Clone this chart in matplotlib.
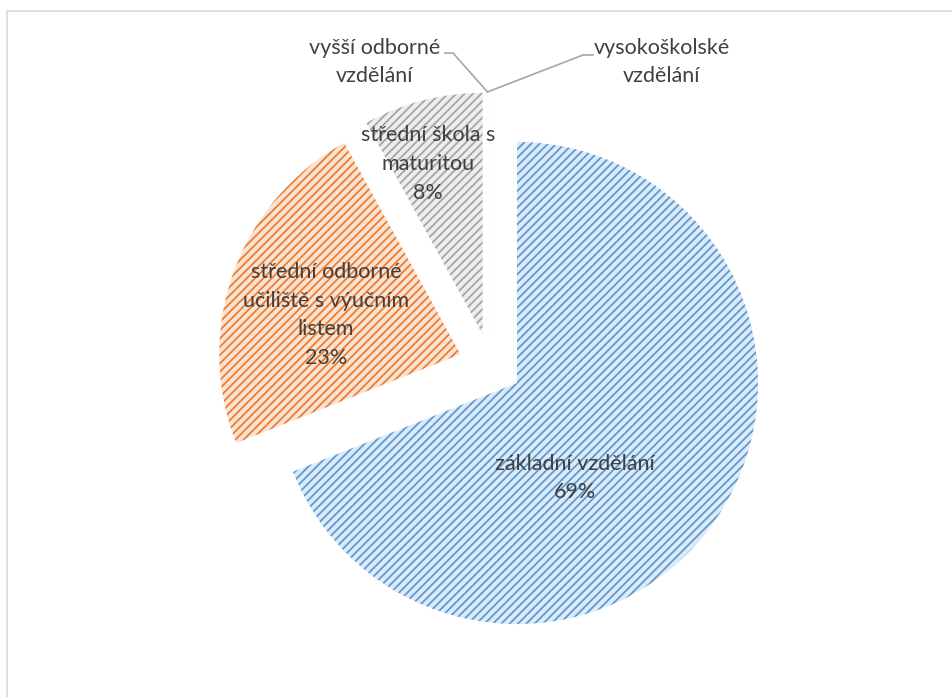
import matplotlib.pyplot as plt
from matplotlib.patches import Rectangle

plt.rcParams["font.family"] = ["Lato", "DejaVu Sans"]
plt.rcParams["hatch.linewidth"] = 1.3

categories = [
    "základní vzdělání",
    "střední odborné\nučiliště s výučním\nlistem",
    "střední škola s\nmaturitou",
    "vyšší odborné\nvzdělání",
    "vysokoškolské\nvzdělání",
]
shares = [69, 23, 8, 0, 0]
stripe_colors = ["#5b9bd5", "#ed7d31", "#a5a5a5", "#ffc000", "#4472c4"]
back_colors = ["#deebf7", "#fbe3d3", "#ededed", "#fff2cc", "#dae3f3"]

TEXT = "#404040"
FS = 15.5
LS = 1.55

fig = plt.figure(figsize=(9.53, 6.97), dpi=100)
ax = fig.add_axes([0, 0, 1, 1])

cx, cy, r = 490.5, 332, 241
explode = 0.133
wedges, _ = ax.pie(
    shares,
    explode=[explode * r] * len(shares),  # pie offsets in data units
    startangle=90,
    counterclock=False,
    radius=r,
    center=(cx, cy),
    colors=back_colors,
)
for w, sc in zip(wedges, stripe_colors):
    w.set_hatch("////")
    w.set_edgecolor(sc)
    w.set_linewidth(0.01)
    if hasattr(w, "set_hatchcolor"):
        w.set_hatchcolor(sc)

ax.set_xlim(0, 953)
ax.set_ylim(0, 697)
ax.set_aspect("equal")
ax.axis("off")

# inside labels
label_pos = [(575, 697 - 478), (326, 697 - 315), (428, 697 - 164)]
for i, (x, y) in enumerate(label_pos):
    ax.text(x, y, f"{categories[i]}\n{shares[i]}%", ha="center", va="center",
            fontsize=FS, color=TEXT, linespacing=LS)

# zero-value labels with leader lines
tip = (cx, cy + r * (1 + explode))
ax.text(375, 697 - 62, categories[3], ha="center", va="center",
        fontsize=FS, color=TEXT, linespacing=LS)
ax.text(662, 697 - 62, categories[4], ha="center", va="center",
        fontsize=FS, color=TEXT, linespacing=LS)
ax.plot([445, 453, tip[0] - 3], [697 - 53, 697 - 53, tip[1]], color="#a6a6a6", lw=1.2)
ax.plot([593, 583, tip[0] - 3], [697 - 55, 697 - 55, tip[1]], color="#a6a6a6", lw=1.2)

# chart area border
fig.patches.append(Rectangle((6.5 / 953, -0.01), 1.1, (697 - 10.5) / 697 + 0.01,
                             transform=fig.transFigure, fill=False,
                             edgecolor="#d9d9d9", lw=1.2))

fig.savefig("out.png", dpi=100)
